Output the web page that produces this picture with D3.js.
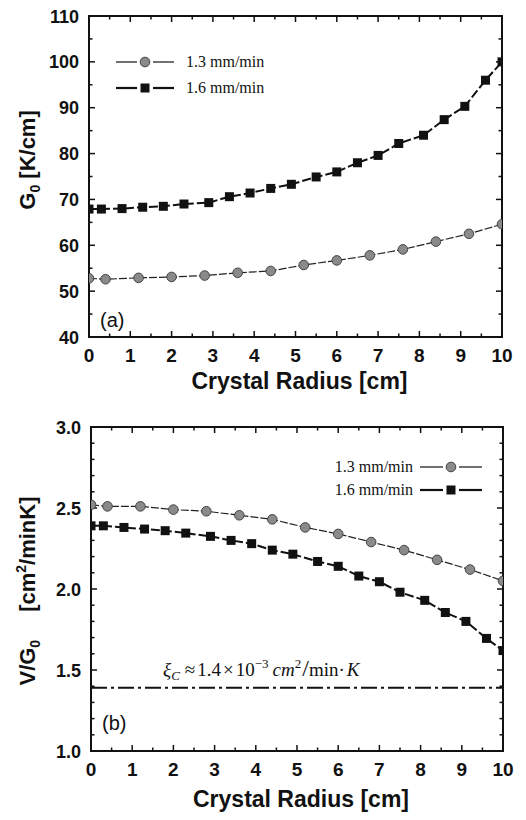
<!DOCTYPE html>
<html>
<head>
<meta charset="UTF-8">
<script src="https://d3js.org/d3.v7.min.js"></script>
<style>
  body { margin: 0; background: #fff; }
  svg { display: block; }
  .tick-label { font-family: "Liberation Sans", Arial, sans-serif; font-weight: bold; font-size: 18px; fill: #111; }
  .axis-title { font-family: "Liberation Sans", Arial, sans-serif; font-weight: bold; font-size: 22px; fill: #111; }
  .legend { font-family: "Liberation Serif", "Times New Roman", serif; font-size: 16px; fill: #111; }
</style>
</head>
<body>
<svg id="chart" width="526" height="820"></svg>
<script>
// radius positions of the markers
const xCircle = [0, 0.4, 1.2, 2.0, 2.8, 3.6, 4.4, 5.2, 6.0, 6.8, 7.6, 8.4, 9.2, 10];
const xSquare = [0, 0.3, 0.8, 1.3, 1.8, 2.3, 2.9, 3.4, 3.9, 4.4, 4.9, 5.5, 6.0, 6.5, 7.0, 7.5, 8.1, 8.6, 9.1, 9.6, 10];

// (a) G0 [K/cm]
const g0Slow = [52.8, 52.6, 52.9, 53.1, 53.4, 54.0, 54.4, 55.7, 56.7, 57.8, 59.1, 60.8, 62.5, 64.6];
const g0Fast = [67.9, 67.9, 68.0, 68.3, 68.5, 69.0, 69.3, 70.6, 71.4, 72.4, 73.3, 74.9, 76.0, 78.0, 79.6, 82.2, 84.0, 87.4, 90.3, 96.0, 100.0];

// (b) V/G0
const vgSlow = [2.52, 2.51, 2.51, 2.49, 2.48, 2.455, 2.43, 2.38, 2.34, 2.29, 2.24, 2.18, 2.12, 2.05];
const vgFast = [2.39, 2.39, 2.38, 2.37, 2.36, 2.345, 2.325, 2.30, 2.28, 2.24, 2.215, 2.17, 2.14, 2.08, 2.045, 1.98, 1.93, 1.855, 1.80, 1.695, 1.62];
const xiC = 1.39;

const seriesNames = ["1.3 mm/min", "1.6 mm/min"];
const xTicks = [0, 1, 2, 3, 4, 5, 6, 7, 8, 9, 10];

const svg = d3.select("#chart");

function drawPanel(cfg) {
  const g = svg.append("g");
  const x = d3.scaleLinear().domain([0, 10]).range([cfg.left, cfg.right]);
  const y = d3.scaleLinear().domain(cfg.yDomain).range([cfg.bottom, cfg.top]);

  // ticks, all pointing inward
  const xMinor = d3.range(0, 10.001, 0.5);
  const yMinor = d3.range(cfg.yDomain[0], cfg.yDomain[1] + 1e-6, cfg.yMinorStep);
  const tickG = g.append("g").attr("stroke", "#111").attr("stroke-width", 1.5);
  xMinor.forEach(v => {
    const major = Math.abs(v - Math.round(v)) < 1e-6;
    const len = major ? 6 : 3.5;
    tickG.append("line").attr("x1", x(v)).attr("x2", x(v)).attr("y1", cfg.bottom).attr("y2", cfg.bottom - len);
    tickG.append("line").attr("x1", x(v)).attr("x2", x(v)).attr("y1", cfg.top).attr("y2", cfg.top + len);
  });
  yMinor.forEach(v => {
    const major = cfg.yTicks.some(t => Math.abs(t - v) < 1e-6);
    const len = major ? 6 : 3.5;
    tickG.append("line").attr("x1", cfg.left).attr("x2", cfg.left + len).attr("y1", y(v)).attr("y2", y(v));
    tickG.append("line").attr("x1", cfg.right).attr("x2", cfg.right - len).attr("y1", y(v)).attr("y2", y(v));
  });

  // frame
  g.append("rect")
    .attr("x", cfg.left).attr("y", cfg.top)
    .attr("width", cfg.right - cfg.left).attr("height", cfg.bottom - cfg.top)
    .attr("fill", "none").attr("stroke", "#111").attr("stroke-width", 2);

  // tick labels
  g.selectAll(".xl").data(xTicks).enter().append("text")
    .attr("class", "tick-label")
    .attr("x", d => x(d)).attr("y", cfg.bottom + 25)
    .attr("text-anchor", "middle").style("font-size", "19px").text(d => d);
  g.selectAll(".yl").data(cfg.yTicks).enter().append("text")
    .attr("class", "tick-label")
    .attr("x", cfg.left - 10).attr("y", d => y(d) + 6.5)
    .attr("text-anchor", "end").text(d => cfg.yFormat(d));

  // x title
  g.append("text").attr("class", "axis-title")
    .attr("x", (cfg.left + cfg.right) / 2 + 4).attr("y", cfg.bottom + cfg.xTitleDy)
    .attr("text-anchor", "middle").style("font-size", "23px").text("Crystal Radius [cm]");

  // y title
  const yt = g.append("text").attr("class", "axis-title")
    .attr("transform", `translate(${cfg.yTitleX},${cfg.yTitleY}) rotate(-90)`)
    .attr("text-anchor", "middle");
  cfg.yTitle(yt);

  // panel letter
  g.append("text")
    .attr("x", cfg.left + 11).attr("y", cfg.letterY)
    .attr("font-family", "Liberation Sans, Arial, sans-serif")
    .attr("font-size", 20).attr("fill", "#111")
    .text(cfg.letter);

  const line = d3.line().x(d => x(d[0])).y(d => y(d[1]));

  const slow = xCircle.map((v, i) => [v, cfg.slow[i]]);
  const fast = xSquare.map((v, i) => [v, cfg.fast[i]]);

  const clip = "clip-" + cfg.letter.replace(/\W/g, "");
  g.append("clipPath").attr("id", clip).append("rect")
    .attr("x", cfg.left).attr("y", cfg.top)
    .attr("width", cfg.right - cfg.left).attr("height", cfg.bottom - cfg.top);
  const plot = g.append("g").attr("clip-path", `url(#${clip})`);

  if (cfg.hline != null) {
    plot.append("line")
      .attr("x1", cfg.left).attr("x2", cfg.right)
      .attr("y1", y(cfg.hline)).attr("y2", y(cfg.hline))
      .attr("stroke", "#111").attr("stroke-width", 2)
      .attr("stroke-dasharray", "16,4,3,4");
  }

  plot.append("path").datum(slow).attr("d", line)
    .attr("fill", "none").attr("stroke", "#222").attr("stroke-width", 1.2)
    .attr("stroke-dasharray", "8,2");
  plot.append("path").datum(fast).attr("d", line)
    .attr("fill", "none").attr("stroke", "#111").attr("stroke-width", 2)
    .attr("stroke-dasharray", "9,3");

  plot.selectAll(".c").data(slow).enter().append("circle")
    .attr("cx", d => x(d[0])).attr("cy", d => y(d[1])).attr("r", 4.8)
    .attr("fill", "#8a8a8a").attr("stroke", "#444").attr("stroke-width", 1);
  plot.selectAll(".s").data(fast).enter().append("rect")
    .attr("x", d => x(d[0]) - 4.5).attr("y", d => y(d[1]) - 4.5)
    .attr("width", 9).attr("height", 9).attr("fill", "#111");

  // legend: dash, marker, dash
  cfg.legend.forEach((L, i) => {
    const lg = g.append("g");
    const mid = (L.x0 + L.x1) / 2;
    const sw = i === 0 ? 1.2 : 2.2;
    [[L.x0, mid - 8], [mid + 8, L.x1]].forEach(s => {
      lg.append("line").attr("x1", s[0]).attr("x2", s[1]).attr("y1", L.y).attr("y2", L.y)
        .attr("stroke", "#111").attr("stroke-width", sw);
    });
    if (i === 0) {
      lg.append("circle").attr("cx", mid).attr("cy", L.y).attr("r", 4.8)
        .attr("fill", "#8a8a8a").attr("stroke", "#444");
    } else {
      lg.append("rect").attr("x", mid - 4.5).attr("y", L.y - 4.5)
        .attr("width", 9).attr("height", 9).attr("fill", "#111");
    }
    lg.append("text").attr("class", "legend")
      .attr("x", L.tx).attr("y", L.y + 5)
      .attr("text-anchor", L.anchor).text(seriesNames[i]);
  });

  return { g, x, y };
}

drawPanel({
  left: 89, right: 502, top: 16, bottom: 337,
  yDomain: [40, 110], yTicks: [40, 50, 60, 70, 80, 90, 100, 110], yMinorStep: 5,
  yFormat: d => d, yTitleX: 35, yTitleY: 160, letter: "(a)", letterY: 327, xTitleDy: 52,
  slow: g0Slow, fast: g0Fast, hline: null,
  yTitle: t => {
    t.append("tspan").text("G");
    t.append("tspan").attr("dy", 5).attr("font-size", 14).text("0");
    t.append("tspan").attr("dy", -5).text(" [K/cm]");
  },
  legend: [
    { x0: 116, x1: 174, y: 62, tx: 186, anchor: "start" },
    { x0: 116, x1: 174, y: 88, tx: 186, anchor: "start" }
  ]
});

const pb = drawPanel({
  left: 91, right: 503, top: 427, bottom: 751,
  yDomain: [1.0, 3.0], yTicks: [1.0, 1.5, 2.0, 2.5, 3.0], yMinorStep: 0.1,
  yFormat: d3.format(".1f"), yTitleX: 35, yTitleY: 591, letter: "(b)", letterY: 730, xTitleDy: 56,
  slow: vgSlow, fast: vgFast, hline: xiC,
  yTitle: t => {
    t.append("tspan").text("V/G");
    t.append("tspan").attr("dy", 5).attr("font-size", 14).text("0");
    t.append("tspan").attr("dy", -5).attr("dx", 28).text("[cm");
    t.append("tspan").attr("dy", -9).attr("font-size", 14).text("2");
    t.append("tspan").attr("dy", 9).text("/minK]");
  },
  legend: [
    { x0: 420, x1: 482, y: 467, tx: 413, anchor: "end" },
    { x0: 420, x1: 482, y: 490, tx: 413, anchor: "end" }
  ]
});

// critical value annotation
const ann = pb.g.append("text").attr("class", "legend")
  .attr("x", 163).attr("y", pb.y(xiC) - 12).style("font-size", "19px");
ann.append("tspan").attr("font-style", "italic").text("ξ");
ann.append("tspan").attr("dy", 4).attr("font-size", 13).attr("font-style", "italic").text("C");
ann.append("tspan").attr("dy", -4).attr("dx", 5).text("≈");
ann.append("tspan").attr("dx", 2).text("1.4");
ann.append("tspan").attr("dx", 2).text("×");
ann.append("tspan").attr("dx", 2).text("10");
ann.append("tspan").attr("dy", -8).attr("font-size", 13).text("−3");
ann.append("tspan").attr("dy", 8).attr("dx", 4).attr("font-style", "italic").text("cm");
ann.append("tspan").attr("dy", -8).attr("font-size", 13).text("2");
ann.append("tspan").attr("dy", 8).attr("dx", 1).attr("font-size", 24).text("/");
ann.append("tspan").text("min·");
ann.append("tspan").attr("dx", 2).attr("font-style", "italic").text("K");
</script>
</body>
</html>
